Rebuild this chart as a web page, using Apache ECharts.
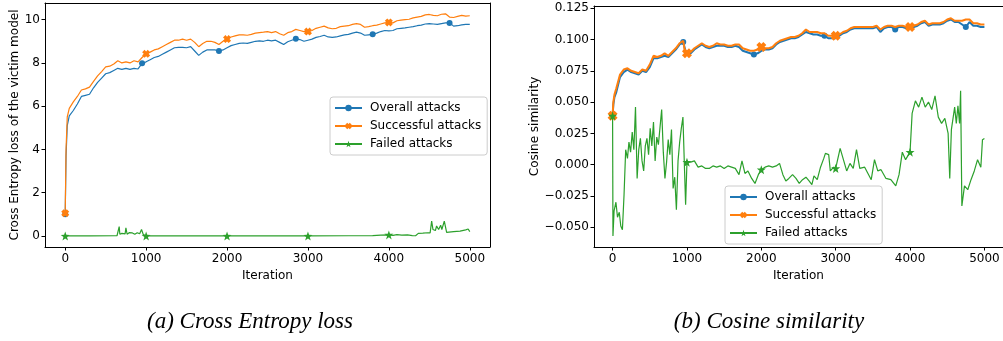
<!DOCTYPE html>
<html><head><meta charset="utf-8">
<script src="https://cdn.jsdelivr.net/npm/echarts@6/dist/echarts.min.js"></script>
<style>html,body{margin:0;padding:0;background:#fff}#c{width:1003px;height:341px}</style>
</head><body><div id="c"></div>
<script>
// ---------- data ----------
const seriesNames = ['Overall attacks', 'Successful attacks', 'Failed attacks'];
const captions = ['(a) Cross Entropy loss', '(b) Cosine similarity'];
const xAxisName = 'Iteration';
const yNameLeft = 'Cross Entropy loss of the victim model';
const yNameRight = 'Cosine similarity';
const xTicks = [0, 1000, 2000, 3000, 4000, 5000];
const ceTicks = [0, 2, 4, 6, 8, 10];
const cosTicks = [-0.05, -0.025, 0, 0.025, 0.05, 0.075, 0.1, 0.125];
const overallMarks = [0, 950, 1900, 2850, 3800, 4750];
const otherMarks = [0, 1000, 2000, 3000, 4000];

const ceIter = [0,10,25,50,100,150,200,250,300,350,400,450,500,550,600,650,700,750,800,850,900,950,1000,1050,1100,1150,1200,1250,1300,1350,1400,1450,1500,1550,1600,1650,1700,1750,1800,1850,1900,1950,2000,2050,2100,2150,2200,2250,2300,2350,2400,2450,2500,2550,2600,2650,2700,2750,2800,2850,2900,2950,3000,3050,3100,3150,3200,3250,3300,3350,3400,3450,3500,3550,3600,3650,3700,3750,3800,3850,3900,3950,4000,4050,4100,4150,4200,4250,4300,4350,4400,4450,4500,4550,4600,4650,4700,4750,4800,4850,4900,4950,5000];
const ceOverall = [1.0,3.7,5.1,5.55,5.8,6.1,6.45,6.5,6.55,6.85,
  7.1,7.3,7.5,7.55,7.65,7.75,7.7,7.75,7.7,7.75,
  7.72,7.98,8.05,8.15,8.25,8.3,8.4,8.5,8.6,8.7,
  8.72,8.72,8.7,8.75,8.55,8.35,8.5,8.6,8.6,8.6,
  8.55,8.6,8.7,8.8,8.85,8.9,8.92,8.9,8.95,9.0,
  9.02,9.0,9.05,9.02,9.05,8.95,8.85,8.98,9.05,9.12,
  9.08,9.0,9.05,9.1,9.18,9.22,9.28,9.2,9.18,9.2,
  9.25,9.3,9.32,9.38,9.42,9.38,9.28,9.3,9.32,9.38,
  9.45,9.5,9.48,9.5,9.58,9.6,9.62,9.65,9.68,9.72,
  9.75,9.8,9.82,9.8,9.78,9.82,9.85,9.85,9.7,9.72,
  9.76,9.78,9.78];
const ceSuccess = [1.05,4.0,5.5,5.9,6.2,6.45,6.75,6.8,6.88,7.15,
  7.4,7.6,7.82,7.85,7.95,8.1,8.0,8.05,8.0,8.1,
  8.05,8.25,8.42,8.5,8.6,8.65,8.75,8.85,8.95,9.05,
  9.05,9.1,9.05,9.1,8.95,8.75,8.9,9.0,9.0,8.95,
  8.85,9.0,9.1,9.2,9.25,9.3,9.3,9.28,9.32,9.38,
  9.4,9.42,9.45,9.4,9.45,9.35,9.28,9.4,9.45,9.55,
  9.5,9.45,9.45,9.5,9.6,9.65,9.7,9.62,9.58,9.6,
  9.68,9.7,9.72,9.78,9.82,9.78,9.65,9.68,9.72,9.75,
  9.8,9.85,9.87,9.85,9.95,9.98,10.0,10.02,10.08,10.12,
  10.15,10.22,10.24,10.2,10.18,10.25,10.27,10.12,10.1,10.15,
  10.2,10.16,10.18];
const ceFailedIter = [0,300,310,320,640,660,667,675,700,720,740,750,765,790,810,830,860,890,920,943,965,985,1000,2000,3000,3500,3800,3900,4000,4050,4100,4160,4230,4290,4330,4364,4420,4480,4510,4529,4545,4575,4590,4615,4640,4655,4685,4714,4800,4880,4950,4980,5000];
const ceFailed = [0,0,0.02,0,0.01,0.05,0.43,0.08,0.12,0.06,0.1,0.38,0.08,0.15,0.1,0.14,0.08,0.15,0.1,0.3,0.06,0.02,0,0,0,0.01,0.02,0.04,0.05,0.03,0.06,0.04,0.05,0.02,0.01,0.12,0.13,0.15,0.14,0.69,0.3,0.25,0.46,0.3,0.5,0.3,0.69,0.17,0.2,0.22,0.28,0.32,0.2];

const cosIter = [0,10,25,50,100,150,200,250,300,350,400,450,500,550,600,650,700,750,800,850,900,950,975,1000,1050,1100,1150,1200,1250,1300,1350,1400,1450,1500,1550,1600,1650,1700,1750,1800,1850,1900,1950,2000,2050,2100,2150,2200,2250,2300,2350,2400,2450,2500,2550,2600,2650,2700,2750,2800,2850,2900,2950,3000,3050,3100,3150,3200,3250,3300,3350,3400,3450,3500,3550,3600,3650,3700,3750,3800,3850,3900,3950,4000,4050,4100,4150,4200,4250,4300,4350,4400,4450,4500,4550,4600,4650,4700,4750,4800,4850,4900,4950,5000];
const cosOverall = [0.039,0.048,0.054,0.058,0.070,0.074,0.076,0.074,0.073,0.072,
  0.075,0.074,0.078,0.085,0.085,0.086,0.087,0.086,0.089,0.092,
  0.096,0.098,0.092,0.088,0.089,0.092,0.094,0.096,0.094,0.093,
  0.094,0.095,0.095,0.095,0.094,0.094,0.095,0.094,0.091,0.090,
  0.089,0.088,0.089,0.091,0.092,0.092,0.093,0.096,0.098,0.099,
  0.100,0.101,0.101,0.102,0.104,0.106,0.105,0.104,0.104,0.103,
  0.103,0.101,0.101,0.101,0.103,0.105,0.106,0.108,0.109,0.109,
  0.109,0.109,0.109,0.109,0.110,0.106,0.109,0.110,0.110,0.108,
  0.110,0.110,0.109,0.109,0.110,0.111,0.113,0.114,0.111,0.112,
  0.112,0.112,0.113,0.115,0.116,0.114,0.114,0.112,0.110,0.114,
  0.111,0.111,0.110,0.110];
const cosSuccess = [0.039,0.050,0.056,0.061,0.072,0.076,0.077,0.075,0.074,0.073,
  0.076,0.075,0.080,0.087,0.086,0.087,0.089,0.087,0.090,0.093,
  0.097,0.099,0.089,0.089,0.090,0.093,0.095,0.097,0.095,0.094,
  0.095,0.097,0.096,0.096,0.095,0.095,0.096,0.096,0.093,0.092,
  0.091,0.091,0.092,0.094,0.093,0.093,0.094,0.097,0.099,0.100,
  0.101,0.102,0.102,0.103,0.105,0.108,0.106,0.106,0.106,0.105,
  0.105,0.103,0.103,0.103,0.104,0.106,0.107,0.109,0.110,0.110,
  0.110,0.110,0.110,0.110,0.111,0.108,0.110,0.111,0.111,0.110,
  0.111,0.111,0.110,0.110,0.111,0.112,0.114,0.115,0.112,0.113,
  0.113,0.113,0.114,0.116,0.117,0.115,0.115,0.115,0.116,0.116,
  0.113,0.113,0.112,0.112];
const cosFailedIter = [0,5,20,45,66,90,110,132,154,176,200,220,242,264,286,308,330,352,374,396,418,440,462,484,506,528,550,572,594,616,638,660,682,704,726,748,770,792,814,836,858,880,902,924,946,968,982,1000,1050,1100,1150,1200,1250,1300,1350,1400,1450,1500,1550,1600,1650,1700,1740,1780,1820,1870,1915,1960,2000,2050,2100,2150,2200,2245,2290,2330,2370,2420,2466,2510,2554,2600,2642,2680,2708,2752,2796,2840,2862,2906,2928,2972,3000,3060,3104,3148,3192,3236,3280,3324,3390,3434,3478,3522,3566,3610,3676,3742,3808,3852,3896,3940,4000,4028,4072,4116,4160,4204,4248,4292,4336,4380,4424,4468,4512,4534,4556,4600,4622,4644,4666,4680,4697,4732,4776,4820,4864,4908,4952,4974,5000];
const cosFailed = [0.039,-0.057,-0.037,-0.030,-0.042,-0.038,-0.049,-0.052,-0.024,0.012,0.005,0.018,0.010,0.026,0.012,0.046,-0.011,0.012,0.021,0.003,-0.005,0.015,0.021,0.008,0.029,0.015,0.034,0.003,0.022,0.016,0.030,0.044,0.010,-0.011,0.002,0.020,0.008,0.028,-0.019,-0.010,-0.036,0.003,0.018,0.029,0.038,-0.005,-0.032,0.002,0.002,0.003,-0.002,-0.001,-0.003,-0.003,-0.001,-0.002,-0.001,-0.003,-0.001,-0.002,-0.003,-0.008,0.003,-0.007,-0.005,-0.011,-0.015,-0.008,-0.004,-0.002,-0.001,-0.002,-0.001,0.001,-0.008,-0.013,-0.011,-0.008,-0.011,-0.015,-0.012,-0.010,-0.013,-0.016,-0.009,-0.012,-0.002,0.005,0.009,0.008,-0.005,-0.002,-0.003,0.013,0.004,-0.005,0.001,-0.003,0.012,-0.003,-0.002,-0.007,-0.012,0.004,-0.005,-0.004,-0.011,-0.012,-0.017,-0.008,0.010,0.004,0.010,0.041,0.051,0.046,0.054,0.046,0.050,0.044,0.055,0.038,0.033,0.037,0.025,-0.011,0.028,0.046,0.033,0.047,0.033,0.059,-0.033,-0.017,-0.020,-0.012,-0.005,0.004,-0.002,0.020,0.021];

// ---------- styling ----------
const COLORS = ['#1f77b4', '#ff7f0e', '#2ca02c'];
const FONT = 'DejaVu Sans';
const XPATH = 'path://M0,3 L3,0 L5,2 L7,0 L10,3 L8,5 L10,7 L7,10 L5,8 L3,10 L0,7 L2,5 Z';
const STAR = 'path://M0,-10 L2.35,-3.24 L9.51,-3.09 L3.8,1.24 L5.88,8.09 L0,4 L-5.88,8.09 L-3.8,1.24 L-9.51,-3.09 L-2.35,-3.24 Z';
const SYMBOLS = ['circle', XPATH, STAR];

function mk(xs, ys, marks) {
  const n = Math.min(xs.length, ys.length);
  const out = [];
  for (let i = 0; i < n; i++) {
    out.push(marks.includes(xs[i]) ? [xs[i], ys[i]] : { value: [xs[i], ys[i]], symbol: 'none' });
  }
  return out;
}

const labelStyle = { color: '#000', fontSize: 12, fontFamily: FONT };
function xAxisMain(grid) {
  return {
    type: 'value', gridIndex: grid, min: -250, max: 5250, position: 'bottom',
    axisLine: { show: true, onZero: false, lineStyle: { color: '#000', width: 1 } },
    axisTick: { show: true, length: 3.5, customValues: xTicks, lineStyle: { color: '#000', width: 1 } },
    axisLabel: Object.assign({ customValues: xTicks, margin: 6, formatter: v => String(v) }, labelStyle),
    splitLine: { show: false },
    name: xAxisName, nameLocation: 'middle', nameGap: 18, nameTextStyle: labelStyle
  };
}
function spineX(grid) {
  return { type: 'value', gridIndex: grid, min: -250, max: 5250, position: 'top',
    axisLine: { show: true, onZero: false, lineStyle: { color: '#000', width: 1 } },
    axisTick: { show: false }, axisLabel: { show: false }, splitLine: { show: false } };
}
function legendAt(left, top) {
  return { data: seriesNames, orient: 'vertical', left: left, top: top, itemWidth: 27, itemHeight: 8, itemGap: 6,
    padding: [5, 6, 5, 4], backgroundColor: 'rgba(255,255,255,0.8)', borderColor: '#ccc', borderWidth: 1,
    borderRadius: 3, textStyle: { color: '#000', fontSize: 12, fontFamily: FONT, padding: [0, 0, 0, 3] },
    selectedMode: false };
}
const captionStyle = { textAlign: 'center', textVerticalAlign: 'middle', fontStyle: 'italic', fontSize: 23,
  fontFamily: 'Liberation Serif', fill: '#000' };

const option = {
  animation: false,
  backgroundColor: '#fff',
  textStyle: { fontFamily: FONT },
  grid: [
    { left: 45, top: 3, width: 445, height: 244 },
    { left: 594, top: 6, width: 416, height: 241 }
  ],
  xAxis: [xAxisMain(0), spineX(0), xAxisMain(1), spineX(1)],
  yAxis: [
    { type: 'value', gridIndex: 0, min: -0.51, max: 10.77, position: 'left',
      axisLine: { show: true, onZero: false, lineStyle: { color: '#000', width: 1 } },
      axisTick: { show: true, length: 3.5, customValues: ceTicks, lineStyle: { color: '#000' } },
      axisLabel: Object.assign({ customValues: ceTicks, margin: 5 }, labelStyle),
      splitLine: { show: false },
      name: yNameLeft, nameLocation: 'middle', nameGap: 23, nameTextStyle: labelStyle },
    { type: 'value', gridIndex: 0, min: -0.51, max: 10.77, position: 'right',
      axisLine: { show: true, onZero: false, lineStyle: { color: '#000', width: 1 } },
      axisTick: { show: false }, axisLabel: { show: false }, splitLine: { show: false } },
    { type: 'value', gridIndex: 1, min: -0.0658, max: 0.1268, position: 'left',
      axisLine: { show: true, onZero: false, lineStyle: { color: '#000', width: 1 } },
      axisTick: { show: true, length: 3.5, customValues: cosTicks, lineStyle: { color: '#000' } },
      axisLabel: Object.assign({ customValues: cosTicks, margin: 5,
        formatter: v => (v < 0 ? '\u2212' : '') + Math.abs(v).toFixed(3) }, labelStyle),
      splitLine: { show: false },
      name: yNameRight, nameLocation: 'middle', nameGap: 52, nameTextStyle: labelStyle }
  ],
  legend: [legendAt(330, 97), legendAt(725, 186)],
  graphic: [
    { type: 'text', style: Object.assign({ text: captions[0], x: 250, y: 322 }, captionStyle) },
    { type: 'text', style: Object.assign({ text: captions[1], x: 769, y: 322 }, captionStyle) }
  ],
  series: []
};

function addSeries(i, grid, xs, ys, marks, width, size) {
  option.series.push({
    name: seriesNames[i], type: 'line', xAxisIndex: grid * 2, yAxisIndex: grid * 2,
    data: mk(xs, ys, marks), symbol: SYMBOLS[i], symbolSize: size, showSymbol: true, showAllSymbol: true,
    lineStyle: { color: COLORS[i], width: width }, itemStyle: { color: COLORS[i] },
    silent: true, z: 2 + i, clip: true
  });
}
addSeries(0, 0, ceIter, ceOverall, overallMarks, 1.2, 6);
addSeries(1, 0, ceIter, ceSuccess, otherMarks, 1.2, 8);
addSeries(2, 0, ceFailedIter, ceFailed, otherMarks, 1.2, 9);
addSeries(0, 1, cosIter, cosOverall, overallMarks, 2, 6);
addSeries(1, 1, cosIter, cosSuccess, otherMarks, 2, 10);
addSeries(2, 1, cosFailedIter, cosFailed, otherMarks, 1.2, 9);

const chart = echarts.init(document.getElementById('c'), null, { renderer: 'canvas' });
chart.setOption(option);
</script>
</body></html>
